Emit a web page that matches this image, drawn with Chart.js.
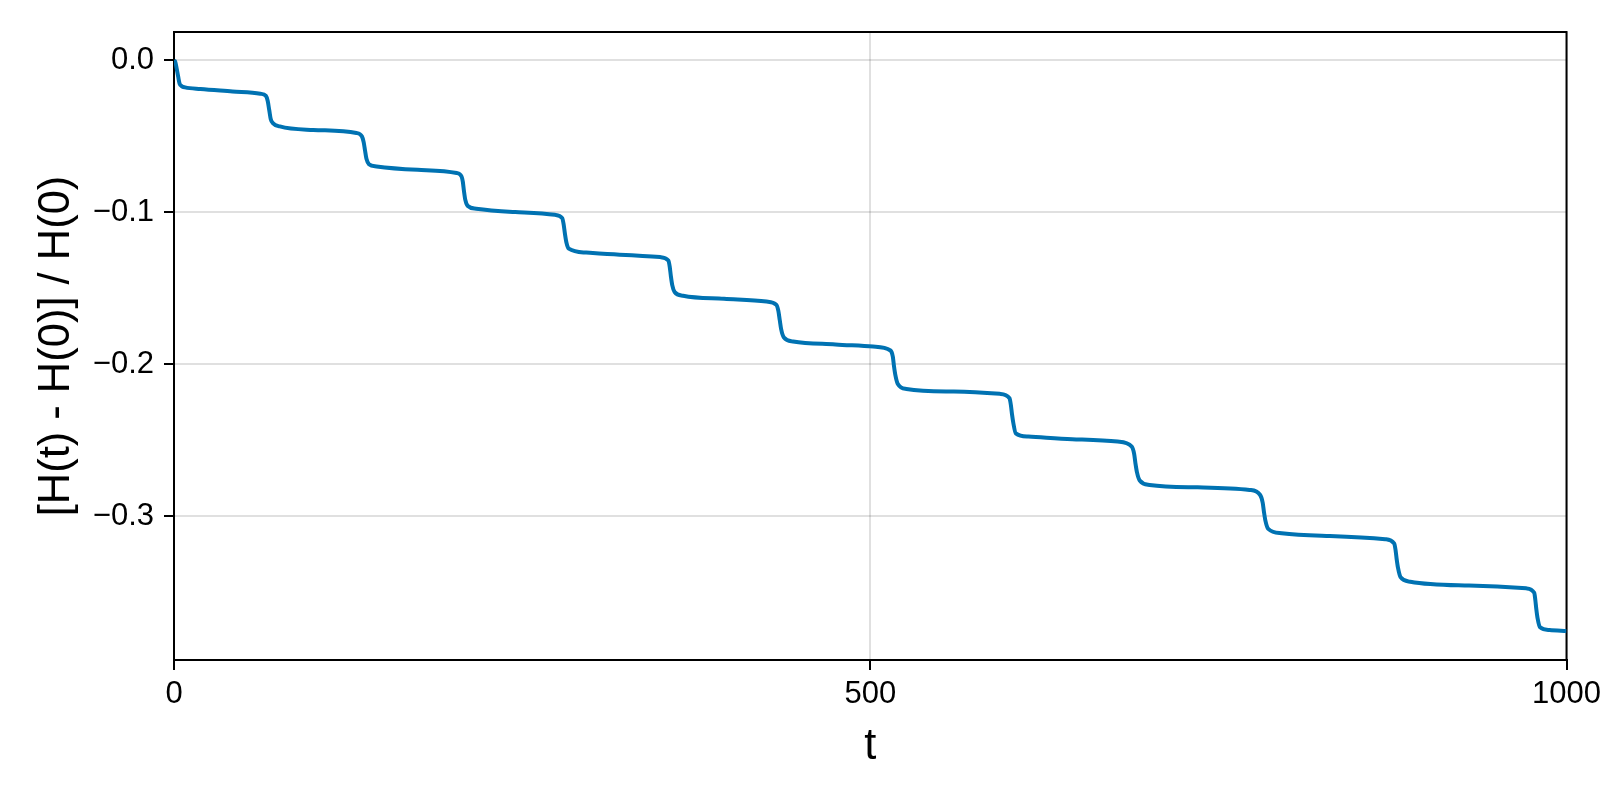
<html>
<head>
<script src="https://cdn.jsdelivr.net/npm/chart.js@4.4.1/dist/chart.umd.min.js"></script>
<style>
 body { margin: 0; overflow: hidden; background: #fff; }
 #wrap { width: 1610px; height: 800px; }
</style>
</head>
<body>
<div id="wrap"><canvas id="myChart"></canvas></div>
<script>
// time values
var tValues = [
 0, 1, 2, 3, 4, 5.5, 8, 19, 42, 62, 66,
 67.3, 68.4, 69.5, 71, 76, 100, 131, 135,
 136.2, 137.1, 138.2, 140, 145.5, 175, 203, 206.5,
 207.4, 208.2, 209.2, 211, 217, 245, 273.5, 278.8,
 279.8, 280.7, 281.8, 283.5, 296, 320, 349, 355,
 356, 356.8, 357.8, 359.5, 365.6, 395, 425.5, 432.6,
 434, 435, 436, 438, 444.6, 475, 502, 514.5,
 516.2, 517, 518, 519.8, 526, 560, 593, 600,
 601, 601.8, 602.8, 604.5, 613.5, 645, 677.6, 687.8,
 689.5, 690.4, 691.5, 693.5, 700.6, 735, 772.4, 780,
 781.8, 782.7, 783.8, 785.8, 795.5, 830, 869.8, 876.2,
 877.2, 878, 879, 880.8, 887.8, 930, 971.1, 976.8,
 977.6, 978.3, 979.2, 981, 987.8, 1000
];
// relative energy error [H(t) - H(0)] / H(0)
var hValues = [
 0, -0.0015, -0.006, -0.011, -0.0155, -0.0172, -0.018, -0.0191, -0.0207, -0.0222, -0.0236,
 -0.027, -0.033, -0.039, -0.0415, -0.0437, -0.046, -0.048, -0.0503,
 -0.054, -0.059, -0.065, -0.0685, -0.070, -0.0722, -0.0743, -0.0766,
 -0.080, -0.086, -0.092, -0.0960, -0.0978, -0.100, -0.1018, -0.104,
 -0.108, -0.114, -0.120, -0.1240, -0.1266, -0.128, -0.1296, -0.1318,
 -0.136, -0.142, -0.148, -0.1525, -0.155, -0.157, -0.1588, -0.161,
 -0.165, -0.171, -0.177, -0.1825, -0.1851, -0.187, -0.1884, -0.191,
 -0.195, -0.201, -0.207, -0.2130, -0.2163, -0.218, -0.2195, -0.2224,
 -0.227, -0.233, -0.239, -0.2455, -0.2476, -0.2493, -0.2509, -0.2542,
 -0.259, -0.265, -0.271, -0.2765, -0.2794, -0.281, -0.2827, -0.286,
 -0.291, -0.297, -0.303, -0.3083, -0.3112, -0.313, -0.3151, -0.3178,
 -0.322, -0.328, -0.334, -0.3400, -0.343, -0.3455, -0.3474, -0.3503,
 -0.355, -0.361, -0.367, -0.3730, -0.3748, -0.3755
];
var xTickValues = [0, 500, 1000];
var xTickLabels = ["0", "500", "1000"];
var yTickValues = [0, -0.1, -0.2, -0.3];
var yTickLabels = ["0.0", "\u22120.1", "\u22120.2", "\u22120.3"];

var points = [];
for (var i = 0; i < tValues.length; i++) {
 points.push({x: tValues[i], y: hValues[i]});
}

var fam = "'Liberation Sans', Arial, sans-serif";

// box around the whole plot area (top and right spines too)
var frame = {
 id: "frame",
 beforeDatasetsDraw: function(chart) {
 var a = chart.chartArea, ctx = chart.ctx;
 ctx.save();
 ctx.strokeStyle = "#000";
 ctx.lineWidth = 2;
 ctx.strokeRect(a.left, a.top, a.right - a.left, a.bottom - a.top);
 ctx.restore();
 }
};

new Chart("myChart", {
 type: "line",
 data: {
 datasets: [{
 data: points,
 borderColor: "rgb(0,114,178)",
 borderWidth: 4,
 pointRadius: 0,
 fill: false,
 cubicInterpolationMode: "monotone"
 }]
 },
 plugins: [frame],
 options: {
 responsive: true,
 maintainAspectRatio: false,
 animation: false,
 layout: { padding: { left: 0, top: 32, right: 43, bottom: 0 } },
 plugins: { legend: { display: false }, tooltip: { enabled: false } },
 scales: {
 x: {
 type: "linear",
 min: 0,
 max: 1000,
 afterFit: function(s) { s.height = 140; },
 afterBuildTicks: function(s) { s.ticks = xTickValues.map(function(v) { return {value: v}; }); },
 grid: { color: "rgba(0,0,0,0.12)", lineWidth: 2, tickColor: "#000", tickLength: 10, tickWidth: 2 },
 border: { display: true, color: "#000", width: 2 },
 ticks: {
 color: "#000",
 padding: 9,
 maxRotation: 0,
 font: { family: fam, size: 31, lineHeight: 1 },
 callback: function(v) { return xTickLabels[xTickValues.indexOf(v)]; }
 },
 title: {
 display: true,
 text: "t",
 color: "#000",
 font: { family: fam, size: 43.5, lineHeight: 1 },
 padding: { top: 0, bottom: 31 }
 }
 },
 y: {
 type: "linear",
 min: -0.3945,
 max: 0.0184,
 afterFit: function(s) { s.width = 174; },
 afterBuildTicks: function(s) { s.ticks = yTickValues.map(function(v) { return {value: v}; }); },
 grid: { color: "rgba(0,0,0,0.12)", lineWidth: 2, tickColor: "#000", tickLength: 10, tickWidth: 2 },
 border: { display: true, color: "#000", width: 2 },
 ticks: {
 color: "#000",
 padding: 10,
 font: { family: fam, size: 31, lineHeight: 1 },
 callback: function(v) { return yTickLabels[yTickValues.indexOf(v)]; }
 },
 title: {
 display: true,
 text: "[H(t) - H(0)] / H(0)",
 color: "#000",
 font: { family: fam, size: 43.5, lineHeight: 1 },
 padding: { top: 35, bottom: 0 }
 }
 }
 }
 }
});
</script>
</body>
</html>
